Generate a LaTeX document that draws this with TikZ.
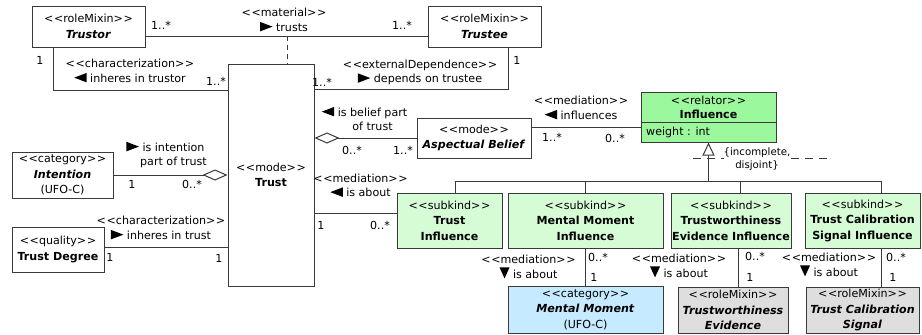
\documentclass[tikz,border=0pt]{standalone}
\usepackage{fontspec}
\setmainfont{DejaVu Sans}
\usetikzlibrary{arrows.meta,calc}
\definecolor{lc}{HTML}{3A3A3A}
\definecolor{relg}{HTML}{9CF89C}
\definecolor{subg}{HTML}{D6FCD6}
\definecolor{catb}{HTML}{C6EAFF}
\definecolor{rmg}{HTML}{DEDEDE}
\newcommand\stereo[1]{<\kern0.6pt<#1>\kern0.6pt>}
\newcommand\boxfont{\fontsize{11.1}{15.5}\selectfont}
\newcommand\lblfont{\fontsize{11.1}{14.5}\selectfont}
\newsavebox\triR
\newsavebox\triL
\newsavebox\triD
\sbox\triR{\tikz[baseline=0pt]\fill[black] (0pt,0pt)--(12.5pt,4.75pt)--(0pt,9.5pt)--cycle;}
\sbox\triL{\tikz[baseline=0pt]\fill[black] (12.5pt,0pt)--(0pt,4.75pt)--(12.5pt,9.5pt)--cycle;}
\sbox\triD{\tikz[baseline=0pt]\fill[black] (0pt,11pt)--(10pt,11pt)--(5pt,0pt)--cycle;}
\begin{document}
\begin{tikzpicture}[x=1pt,y=-1pt,
  box/.style={draw=lc, line width=1pt, inner sep=0pt, align=center, font=\boxfont},
  lbl/.style={inner sep=0pt, align=center, font=\lblfont},
  conn/.style={draw=lc, line width=1pt},
  agg/.style={conn, {Diamond[open,length=25pt,width=11pt]}-},
  gen/.style={conn, {Triangle[open,length=13pt,width=12pt]}-},
]
\useasboundingbox (0,0) rectangle (922,335);

% ---------- boxes ----------
\node[box, minimum width=113pt, minimum height=41pt] (trustor) at (88.5,26.5)
  {\stereo{roleMixin}\\\textbf{\textit{Trustor}}};
\node[box, minimum width=113pt, minimum height=41pt] (trustee) at (484.5,26.5)
  {\stereo{roleMixin}\\\textbf{\textit{Trustee}}};
\node[box, minimum width=86pt, minimum height=222pt] (trust) at (271,175)
  {\stereo{mode}\\\textbf{Trust}};
\node[box, minimum width=101pt, minimum height=46pt] (intention) at (62.5,175)
  {\stereo{category}\\\textbf{\textit{Intention}}\\(UFO-C)};
\node[box, minimum width=92pt, minimum height=45pt] (tdeg) at (58,249.5)
  {\stereo{quality}\\\textbf{Trust Degree}};
\node[box, minimum width=114pt, minimum height=40pt] (asp) at (474,138)
  {\stereo{mode}\\\textbf{\textit{Aspectual Belief}}};
\node[box, fill=relg, minimum width=135pt, minimum height=50pt] (infl) at (708.5,117) {};
\node[lbl, font=\fontsize{11.1}{14}\selectfont] (inflT) at (708.5,107) {\stereo{relator}\\\textbf{Influence}};
\node[lbl, anchor=west] (inflA) at (646,132) {weight : int};
\draw[conn] ($(infl.west)+(0,5)$) -- ($(infl.east)+(0,5)$);

\node[box, fill=subg, minimum width=105pt, minimum height=55pt] (ti) at (449.5,220.5)
  {\stereo{subkind}\\\textbf{Trust}\\\textbf{Influence}};
\node[box, fill=subg, minimum width=155pt, minimum height=55pt] (mmi) at (585.5,220.5)
  {\stereo{subkind}\\\textbf{Mental Moment}\\\textbf{Influence}};
\node[box, fill=subg, minimum width=120pt, minimum height=55pt] (tei) at (731,220.5)
  {\stereo{subkind}\\\textbf{Trustworthiness}\\\textbf{Evidence Influence}};
\node[box, fill=subg, minimum width=115pt, minimum height=55pt] (tcsi) at (862.5,220.5)
  {\stereo{subkind}\\\textbf{Trust Calibration}\\\textbf{Signal Influence}};

\node[box, fill=catb, minimum width=155pt, minimum height=47pt] (mm) at (585.5,309.5)
  {\stereo{category}\\\textbf{\textit{Mental Moment}}\\(UFO-C)};
\node[box, fill=rmg, minimum width=110pt, minimum height=46pt] (te) at (733,310)
  {\stereo{roleMixin}\\\textbf{\textit{Trustworthiness}}\\\textbf{\textit{Evidence}}};
\node[box, fill=rmg, minimum width=113pt, minimum height=46pt] (tcs) at (862.5,310)
  {\stereo{roleMixin}\\\textbf{\textit{Trust Calibration}}\\\textbf{\textit{Signal}}};

% ---------- connectors ----------
% material
\coordinate (matL) at ($(trustor.east)+(0,9.5)$);
\draw[conn] (matL) -- (matL -| trustee.west);
\coordinate (matM) at ($(trust.north)+(16,-28)$);
\draw[conn, dash pattern=on 5pt off 4pt] (matM) -- (matM |- trust.north);
% characterization trustor
\coordinate (ctA) at ($(trustor.south west)+(22,0)$);
\draw[conn] (ctA) |- ($(trust.north west)+(0,27)$);
% external dependence
\coordinate (edA) at ($(trustee.south east)+(-33,0)$);
\draw[conn] (edA) |- ($(trust.north east)+(0,26)$);
% intention
\draw[agg] (trust.west) -- (intention.east);
% trust degree
\coordinate (tdA) at ($(tdeg.east)+(0,-2.5)$);
\draw[conn] (tdA) -- (tdA -| trust.west);
% aspectual belief
\draw[agg] (asp.west -| trust.east) -- (asp.west);
% influences
\coordinate (inA) at ($(asp.east)+(0,-11)$);
\draw[conn] (inA) -- (inA -| infl.west);
% constraint line
\coordinate (dl) at (693,158);
\coordinate (dr) at (830,158);
\draw[conn, dash pattern=on 8pt off 6pt] (dl) -- (dr);
\node[lbl, fill=white, font=\fontsize{10.2}{12.5}\selectfont] (cons) at (757,159) {\{incomplete,\\disjoint\}};
% generalization set
\coordinate (bus) at ($(infl.south)+(0,39)$);
\draw[gen] (infl.south) -- (bus);
\coordinate (b1) at ($(ti.north)+(5.5,0)$);
\coordinate (b3) at ($(tei.north)+(9,0)$);
\coordinate (b4) at ($(tcsi.north)+(18.5,0)$);
\draw[conn] (b1) -- (b1 |- bus) -- (b4 |- bus) -- (b4);
\draw[conn] (mmi.north) -- (mmi.north |- bus);
\draw[conn] (b3) -- (b3 |- bus);
% trust -> trust influence
\coordinate (maA) at ($(trust.east)+(0,38)$);
\draw[conn] (maA) -- (maA -| ti.west);
% bottom mediations
\draw[conn] (mmi.south) -- (mm.north);
\coordinate (c3) at ($(tei.south)+(7,0)$);
\draw[conn] (c3) -- (c3 |- te.north);
\coordinate (c4) at ($(tcsi.south)+(18.5,0)$);
\draw[conn] (c4) -- (c4 |- tcs.north);

% ---------- labels ----------
\node[lbl] (lmat) at (284,20) {\stereo{material}\\\usebox\triR\ trusts};
\node[lbl] (m1) at (161,25) {1..*};
\node[lbl] (m2) at (402,25) {1..*};

\node[lbl] (lct) at (130,71) {\stereo{characterization}\\\usebox\triL\ inheres in trustor};
\node[lbl] (m3) at (40,60) {1};
\node[lbl] (m4) at (216,81) {1..*};

\node[lbl] (led) at (420,72.5) {\stereo{externalDependence}\\\usebox\triR\ depends on trustee};
\node[lbl] (m5) at (517,60) {1};
\node[lbl] (m6) at (322,82) {1..*};

\node[lbl] (lint) at (173.5,155) {\llap{\usebox\triR\ }is intention\\part of trust};
\node[lbl] (m7) at (132,184) {1};
\node[lbl] (m8) at (192,184) {0..*};

\node[lbl] (ltd) at (161,228) {\stereo{characterization}\\\usebox\triR\ inheres in trust};
\node[lbl] (m9) at (110,257) {1};
\node[lbl] (m10) at (219,258) {1};

\node[lbl] (lbel) at (372.5,119) {\llap{\usebox\triL\ }is belief part\\of trust};
\node[lbl] (m11) at (352,150) {0..*};
\node[lbl] (m12) at (403,150) {1..*};

\node[lbl] (linf) at (581,108) {\stereo{mediation}\\\usebox\triL\ influences};
\node[lbl] (m13) at (552,137) {1..*};
\node[lbl] (m14) at (615,138) {0..*};

\node[lbl] (lab1) at (360.5,185.5) {\stereo{mediation}\\\usebox\triL\ is about};
\node[lbl] (m15) at (321,225) {1};
\node[lbl] (m16) at (380,225) {0..*};

\node[lbl] (lab2) at (528.5,267) {\stereo{mediation}\\\usebox\triD\ is about};
\node[lbl] (m17) at (598,257) {0..*};
\node[lbl] (m18) at (594,277) {1};

\node[lbl] (lab3) at (679,266) {\stereo{mediation}\\\usebox\triD\ is about};
\node[lbl] (m19) at (755,256) {0..*};
\node[lbl] (m20) at (750,277) {1};

\node[lbl] (lab4) at (829,265) {\stereo{mediation}\\\usebox\triD\ is about};
\node[lbl] (m21) at (896,257) {0..*};
\node[lbl] (m22) at (893,277) {1};
\end{tikzpicture}
\end{document}
